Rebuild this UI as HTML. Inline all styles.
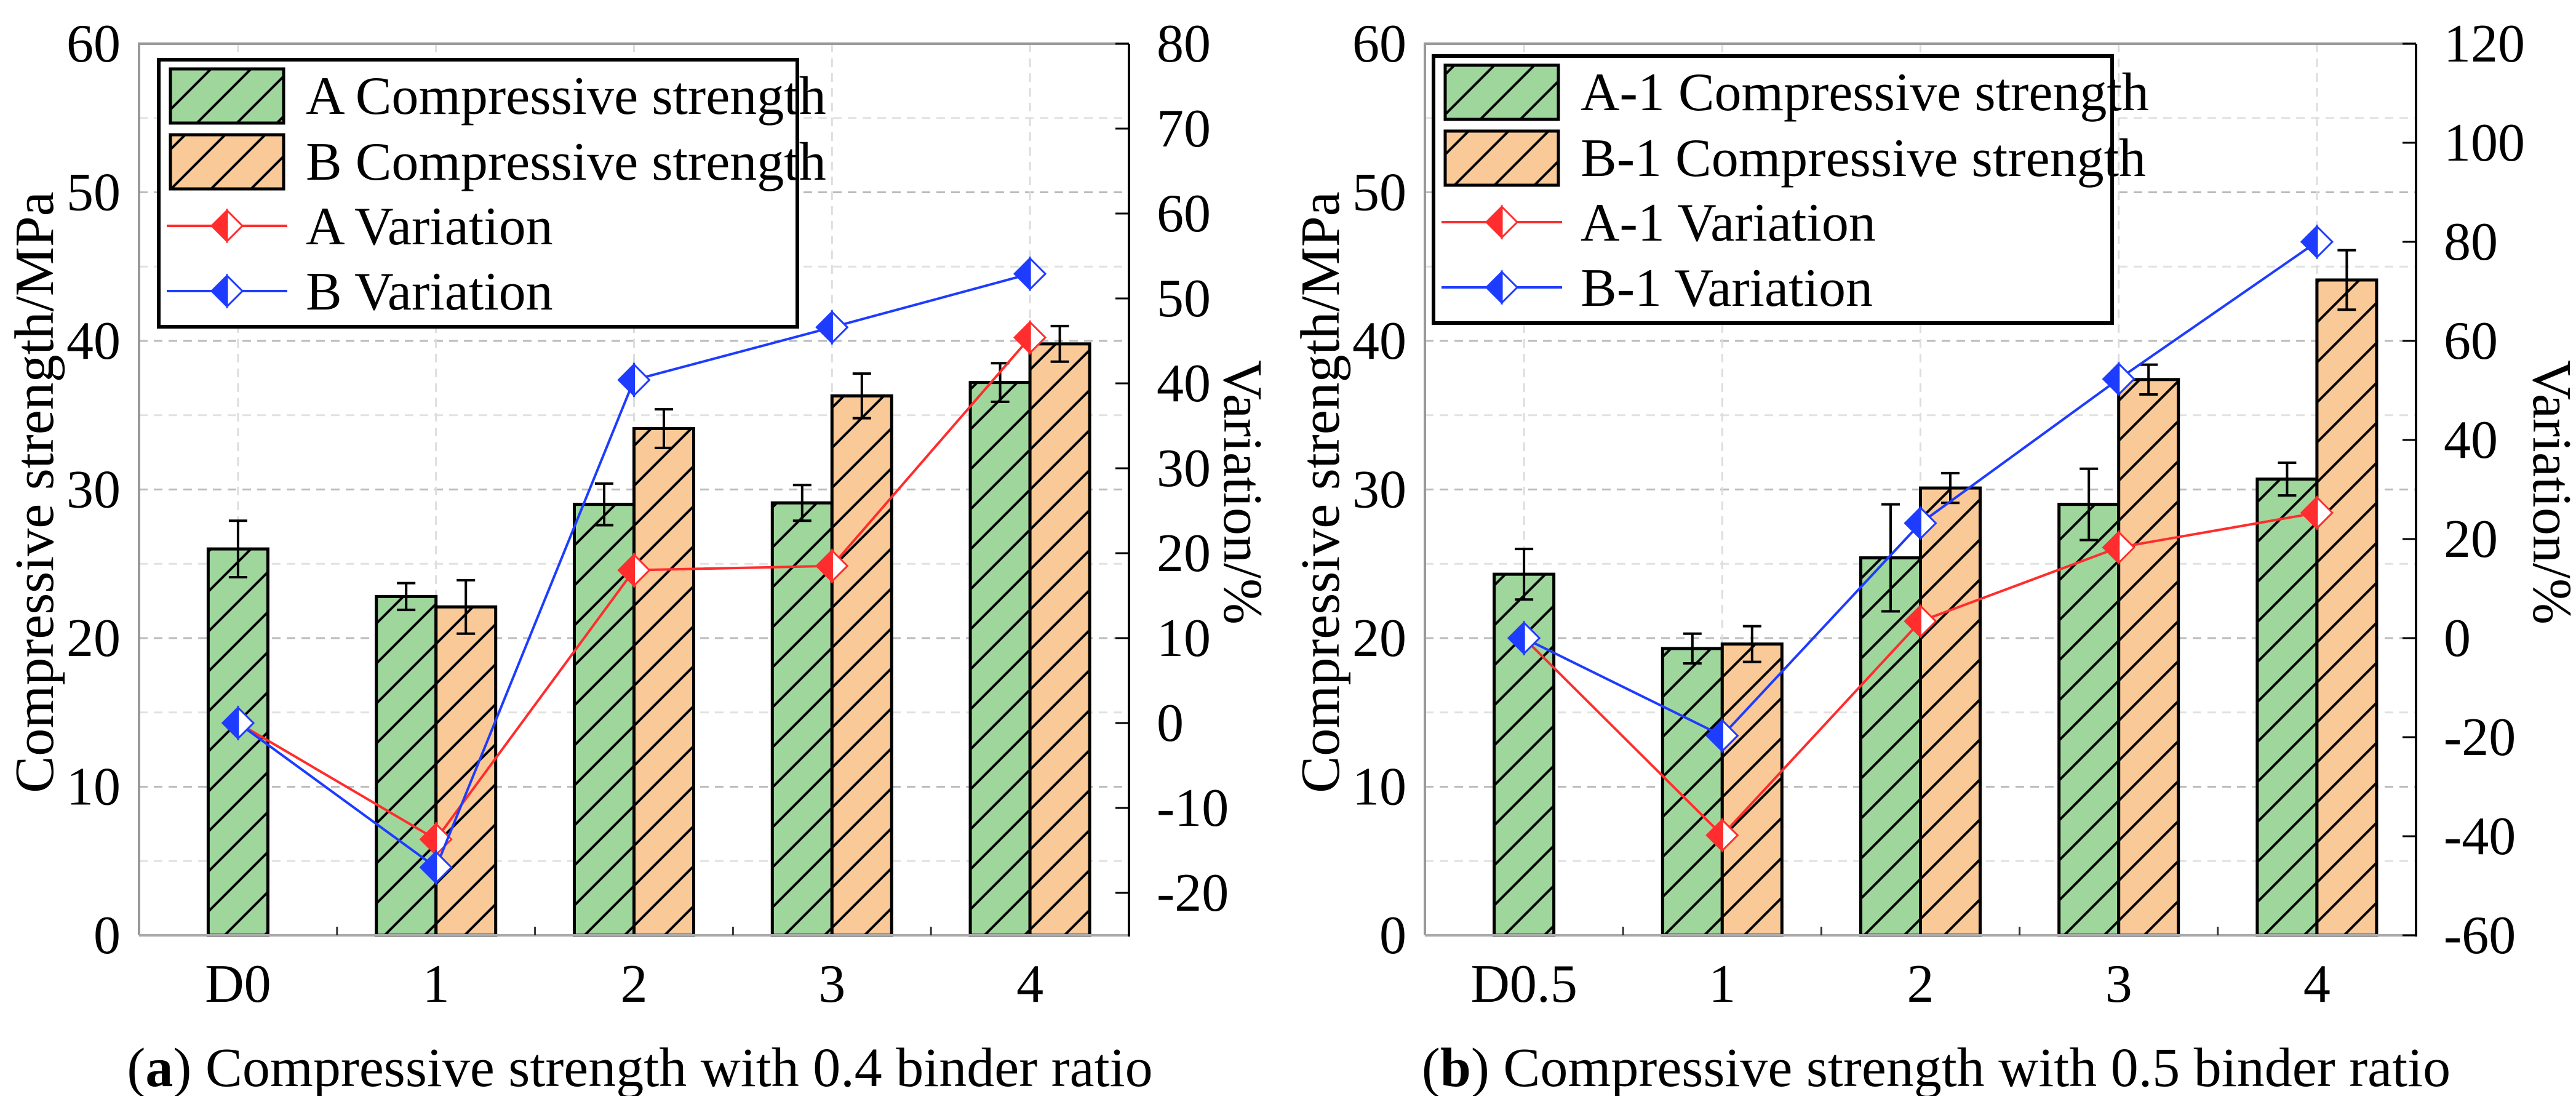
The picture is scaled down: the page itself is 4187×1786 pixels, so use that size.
<!DOCTYPE html>
<html><head><meta charset="utf-8"><style>
html,body{margin:0;padding:0;background:#fff;}
svg, svg text{font-family:"Liberation Serif","Times New Roman",serif;}
</style></head><body>
<svg id="chart" width="4187" height="1781" viewBox="0 0 4187 1781" xmlns="http://www.w3.org/2000/svg" font-family="Liberation Serif, serif">
<defs>
<pattern id="hatchG" patternUnits="userSpaceOnUse" width="65" height="65">
<rect width="65" height="65" fill="#9fd69c"/>
<path d="M-5,70 L70,-5 M-20,20 L20,-20 M45,85 L85,45" stroke="#000" stroke-width="4"/>
</pattern>
<pattern id="hatchO" patternUnits="userSpaceOnUse" width="65" height="65">
<rect width="65" height="65" fill="#f9c997"/>
<path d="M-5,70 L70,-5 M-20,20 L20,-20 M45,85 L85,45" stroke="#000" stroke-width="4"/>
</pattern>
</defs>
</svg>
<script>
const cats1 = ["D0","1","2","3","4"];
const aStr1 = [26.0,22.8,29.0,29.1,37.2];
const aErr1 = [1.9,0.9,1.4,1.2,1.3];
const bStr1 = [null,22.1,34.1,36.3,39.8];
const bErr1 = [null,1.8,1.3,1.5,1.2];
const aVar1 = [0,-13.7,18.0,18.5,45.4];
const bVar1 = [0,-17.0,40.4,46.6,52.9];
const rTicks1 = [-20,-10,0,10,20,30,40,50,60,70,80];

const cats2 = ["D0.5","1","2","3","4"];
const aStr2 = [24.3,19.3,25.4,29.0,30.7];
const aErr2 = [1.7,1.0,3.6,2.4,1.1];
const bStr2 = [null,19.6,30.1,37.4,44.1];
const bErr2 = [null,1.2,1.0,1.0,2.0];
const aVar2 = [0,-39.8,3.4,18.3,25.3];
const bVar2 = [0,-19.7,23.2,52.3,80.0];
const rTicks2 = [-60,-40,-20,0,20,40,60,80,100,120];

const lTicks = [0,10,20,30,40,50,60];

const NS="http://www.w3.org/2000/svg";
const svg=document.getElementById('chart');
const FONT='Liberation Serif, serif';
function mk(tag,attrs,parent){const e=document.createElementNS(NS,tag);for(const k in attrs)e.setAttribute(k,attrs[k]);if(tag==='text')e.setAttribute('font-family',FONT);(parent||svg).appendChild(e);return e;}

function panel(o){
  const g=mk('g',{});
  
  
  const L=o.left,R=o.right,T=71,B=1520;
  const x=i=>L+(i+0.5)*(R-L)/5;
  const y=v=>B-(v/60)*(B-T);
  const yr=v=>B-(v-o.rmin)/(o.rmax-o.rmin)*(B-T);
  const bw=97;
  for(let v=5;v<60;v+=5){
    const gl=mk('line',{x1:L,x2:R,y1:y(v),y2:y(v),stroke:v%10?'#e2e2e2':'#bbb','stroke-width':3,'stroke-dasharray':'14 10'},g);
    
    
  }
  for(let i=0;i<5;i++){
    const gl=mk('line',{x1:x(i),x2:x(i),y1:T,y2:B,stroke:'#ddd','stroke-width':3,'stroke-dasharray':'14 10'},g);
    
    
  }
  for(let i=0;i<5;i++){
    const hasB=o.b[i]!==null;
    const ax=hasB?x(i)-bw:x(i)-bw/2;
    const ra=mk('rect',{x:ax,y:y(o.a[i]),width:bw,height:B-y(o.a[i]),fill:'url(#hatchG)',stroke:'#000','stroke-width':5},g);
    
    
    const ex=ax+bw/2;
    const ea=mk('path',{d:`M${ex},${y(o.a[i]+o.ae[i])}V${y(o.a[i]-o.ae[i])}M${ex-15},${y(o.a[i]+o.ae[i])}h30M${ex-15},${y(o.a[i]-o.ae[i])}h30`,stroke:'#000','stroke-width':4,fill:'none'},g);
    
    
    if(hasB){
      const rb=mk('rect',{x:x(i),y:y(o.b[i]),width:bw,height:B-y(o.b[i]),fill:'url(#hatchO)',stroke:'#000','stroke-width':5},g);
      
      
      const bx=x(i)+bw/2;
      const eb=mk('path',{d:`M${bx},${y(o.b[i]+o.be[i])}V${y(o.b[i]-o.be[i])}M${bx-15},${y(o.b[i]+o.be[i])}h30M${bx-15},${y(o.b[i]-o.be[i])}h30`,stroke:'#000','stroke-width':4,fill:'none'},g);
      
      
    }
  }
  const fr=mk('path',{d:`M${L},${B}V${T}H${R}`,stroke:'#999','stroke-width':4,fill:'none'},g);
  
  
  const bx=mk('line',{x1:L,x2:R,y1:B,y2:B,stroke:'#aaa','stroke-width':4},g);
  
  
  const ra=mk('line',{x1:R,x2:R,y1:T,y2:B+2,stroke:'#000','stroke-width':4},g);
  
  
  for(let i=0;i<4;i++){
    const tk=mk('line',{x1:x(i)+(R-L)/10,x2:x(i)+(R-L)/10,y1:B,y2:B-14,stroke:'#333','stroke-width':3},g);
    
    
  }
  function series(vals,col,nm){
    const pts=vals.map((v,i)=>`${x(i)},${yr(v)}`).join(' ');
    const pl=mk('polyline',{points:pts,fill:'none',stroke:col,'stroke-width':4},g);
    
    
    vals.forEach((v,i)=>marker(g,x(i),yr(v),col,nm+'-point-'+i));
  }
  series(o.av,'#ff2d2d','a-variation');
  series(o.bv,'#1e3cff','b-variation');
  lTicks.forEach(v=>{
    const t=mk('text',{x:L-30,y:y(v)+29,'font-size':88,'text-anchor':'end',fill:'#000'},g);
    t.textContent=v;
    
    
  });
  o.rt.forEach(v=>{
    const t=mk('text',{x:R+45,y:yr(v)+29,'font-size':88,fill:'#000'},g);
    t.textContent=v;
    
    
    const tk=mk('line',{x1:R,x2:R-22,y1:yr(v),y2:yr(v),stroke:'#000','stroke-width':3},g);
    
    
  });
  o.cats.forEach((c,i)=>{
    const t=mk('text',{x:x(i),y:1628,'font-size':88,'text-anchor':'middle',fill:'#000'},g);
    t.textContent=c;
    
    
  });
  const yt=mk('text',{x:0,y:0,'font-size':90,'text-anchor':'middle',transform:`translate(${L-140},800) rotate(-90)`,fill:'#000'},g);
  yt.textContent='Compressive strength/MPa';
  
  
  const rtt=mk('text',{x:0,y:0,'font-size':90,'text-anchor':'middle',transform:`translate(${o.rtitleX},800) rotate(90)`,fill:'#000'},g);
  rtt.textContent='Variation/%';
  
  
  const cap=mk('text',{x:o.capX,y:1765,'font-size':90,'text-anchor':'middle',fill:'#000'},g);
  cap.innerHTML='(<tspan font-weight="bold">'+o.letter+'</tspan>) '+o.caption;
  
  
  const lg=mk('g',{},g);
  
  
  const lb=mk('rect',{x:o.lx,y:o.ly,width:o.lw,height:434,fill:'#fff',stroke:'#000','stroke-width':6},lg);
  
  
  const sx=o.lx+19;
  const rows=[o.ly+58,o.ly+165,o.ly+270,o.ly+376];
  const s1=mk('rect',{x:sx,y:rows[0]-43,width:184,height:88,fill:'url(#hatchG)',stroke:'#000','stroke-width':5},lg);
  
  
  const s2=mk('rect',{x:sx,y:rows[1]-43,width:184,height:88,fill:'url(#hatchO)',stroke:'#000','stroke-width':5},lg);
  
  
  [['#ff2d2d',rows[2]],['#1e3cff',rows[3]]].forEach(([c,ry],k)=>{
    const ln=mk('line',{x1:sx-6,x2:sx+190,y1:ry,y2:ry,stroke:c,'stroke-width':4},lg);
    
    
    marker(lg,sx+92,ry,c,'legend-marker-'+k);
  });
  o.labels.forEach((t,k)=>{
    const tx=mk('text',{x:sx+220,y:rows[k]+30,'font-size':88,fill:'#000'},lg);
    tx.textContent=t;
    
    
  });
}
function marker(parent,cx,cy,col,nm){
  const s=25;
  const m=mk('g',{},parent);
  
  
  mk('path',{d:`M${cx},${cy-s}L${cx+s},${cy}L${cx},${cy+s}Z`,fill:'#fff',stroke:col,'stroke-width':3},m);
  mk('path',{d:`M${cx},${cy-s}L${cx-s},${cy}L${cx},${cy+s}Z`,fill:col,stroke:col,'stroke-width':3},m);
}
panel({name:'panel-a',left:226,right:1835,rmin:-25,rmax:80,rt:rTicks1,cats:cats1,a:aStr1,ae:aErr1,b:bStr1,be:bErr1,av:aVar1,bv:bVar1,
  rtitleX:1990,capX:1040,letter:'a',caption:'Compressive strength with 0.4 binder ratio',
  lx:258,ly:97,lw:1038,labels:['A Compressive strength','B Compressive strength','A Variation','B Variation']});
panel({name:'panel-b',left:2316,right:3927,rmin:-60,rmax:120,rt:rTicks2,cats:cats2,a:aStr2,ae:aErr2,b:bStr2,be:bErr2,av:aVar2,bv:bVar2,
  rtitleX:4118,capX:3147,letter:'b',caption:'Compressive strength with 0.5 binder ratio',
  lx:2330,ly:91,lw:1103,labels:['A-1 Compressive strength','B-1 Compressive strength','A-1 Variation','B-1 Variation']});
</script>
</body></html>
